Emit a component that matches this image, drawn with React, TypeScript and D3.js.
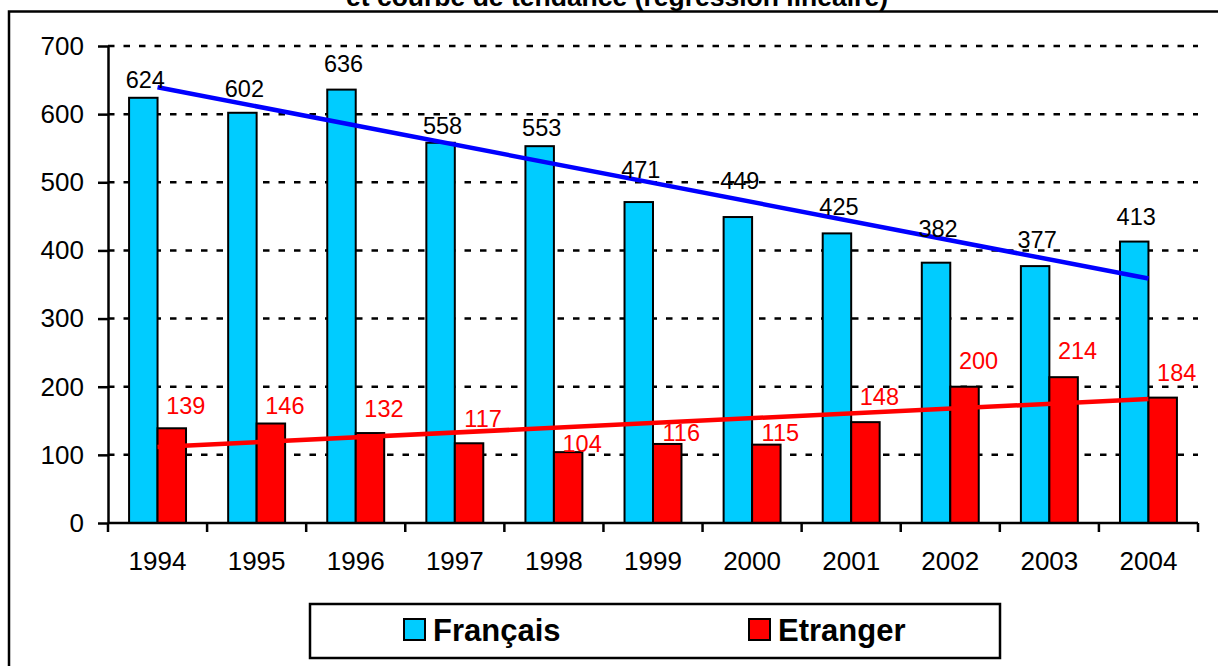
import { useEffect, useRef } from "react";
import * as d3 from "d3";

const years = ["1994", "1995", "1996", "1997", "1998", "1999", "2000", "2001", "2002", "2003", "2004"];
const francais = [624, 602, 636, 558, 553, 471, 449, 425, 382, 377, 413];
const etranger = [139, 146, 132, 117, 104, 116, 115, 148, 200, 214, 184];
const yTicks = [0, 100, 200, 300, 400, 500, 600, 700];
const seriesNames = ["Français", "Etranger"];
const seriesColors = ["#00CCFF", "#FF0000"];
const trendColors = ["#0000FF", "#FF0000"];
const titleLine = "et courbe de tendance (régression linéaire)";

// how far (px) each value label sits above its bar, as placed in the original
const liftFr = [10, 16, 18, 9, 10, 24, 28, 18, 26, 18, 17];
const liftEt = [14, 10, 16, 16, 0, 3, 4, 17, 18, 18, 17];

const W = 1218;
const H = 666;
const FONT = "'Liberation Sans', Arial, Helvetica, sans-serif";

// least squares fit on index 0..n-1
function linReg(vals: number[]) {
  const n = vals.length;
  const mx = (n - 1) / 2;
  const my = d3.mean(vals) as number;
  let num = 0;
  let den = 0;
  vals.forEach((v, i) => {
    num += (i - mx) * (v - my);
    den += (i - mx) * (i - mx);
  });
  const slope = num / den;
  return (i: number) => my + slope * (i - mx);
}

const App = () => {
  const svgRef = useRef<SVGSVGElement>(null);

  useEffect(() => {
    const svg = d3.select(svgRef.current);
    svg.selectAll("*").remove();

    const left = 108;
    const right = 1198;
    const top = 46;
    const bottom = 523;

    //1) scales
    const x = d3.scaleBand<string>().domain(years).range([left, right]).padding(0);
    const x1 = d3
      .scaleBand<number>()
      .domain([0, 1])
      .range([0, x.bandwidth()])
      .paddingInner(0)
      .paddingOuter(0.74);
    const y = d3.scaleLinear().domain([0, 700]).range([bottom, top]);

    // outer frame (runs off right / bottom edges like the source)
    svg
      .append("rect")
      .attr("x", 9)
      .attr("y", 11.5)
      .attr("width", W + 20)
      .attr("height", H + 20)
      .attr("fill", "none")
      .attr("stroke", "#000")
      .attr("stroke-width", 2.5);

    // title, second line only (first line is cut off)
    svg
      .append("text")
      .attr("x", 617)
      .attr("y", 6)
      .attr("text-anchor", "middle")
      .attr("font-family", FONT)
      .attr("font-weight", "bold")
      .attr("font-size", 26.5)
      .text(titleLine);

    //2) gridlines
    svg
      .append("g")
      .selectAll("line")
      .data(yTicks.filter((t) => t > 0))
      .join("line")
      .attr("x1", left)
      .attr("x2", right)
      .attr("y1", (d) => y(d))
      .attr("y2", (d) => y(d))
      .attr("stroke", "#000")
      .attr("stroke-width", 2.5)
      .attr("stroke-dasharray", "6.5,9");

    //3) bars
    const series = [francais, etranger];
    series.forEach((vals, si) => {
      svg
        .append("g")
        .selectAll("rect")
        .data(vals)
        .join("rect")
        .attr("x", (d, i) => (x(years[i]) as number) + (x1(si) as number))
        .attr("y", (d) => y(d))
        .attr("width", x1.bandwidth())
        .attr("height", (d) => bottom - y(d))
        .attr("fill", seriesColors[si])
        .attr("stroke", "#000")
        .attr("stroke-width", 2);
    });

    //4) axes
    const yAxis = d3
      .axisLeft(y)
      .tickValues(yTicks)
      .tickSize(10)
      .tickSizeOuter(0)
      .tickPadding(14);
    const gy = svg.append("g").attr("transform", `translate(${left},0)`).call(yAxis);
    gy.select(".domain").attr("stroke", "#000").attr("stroke-width", 2.5);
    gy.selectAll(".tick line").attr("stroke", "#000").attr("stroke-width", 2.5);
    gy.selectAll(".tick text")
      .attr("font-family", FONT)
      .attr("font-size", 26)
      .attr("fill", "#000");

    svg
      .append("line")
      .attr("x1", left)
      .attr("x2", right)
      .attr("y1", bottom)
      .attr("y2", bottom)
      .attr("stroke", "#000")
      .attr("stroke-width", 2.5);

    const tickXs = years.map((yr) => x(yr) as number).concat([right]);
    svg
      .append("g")
      .selectAll("line")
      .data(tickXs)
      .join("line")
      .attr("x1", (d) => d)
      .attr("x2", (d) => d)
      .attr("y1", bottom)
      .attr("y2", bottom + 9)
      .attr("stroke", "#000")
      .attr("stroke-width", 2.5);

    svg
      .append("g")
      .selectAll("text")
      .data(years)
      .join("text")
      .attr("x", (d) => (x(d) as number) + x.bandwidth() / 2)
      .attr("y", 570)
      .attr("text-anchor", "middle")
      .attr("font-family", FONT)
      .attr("font-size", 26)
      .text((d) => d);

    //5) trend lines
    series.forEach((vals, si) => {
      const f = linReg(vals);
      const line = d3
        .line<number>()
        .x((i) => (x(years[i]) as number) + x.bandwidth() / 2)
        .y((i) => y(f(i)));
      svg
        .append("path")
        .attr("d", line([0, vals.length - 1]))
        .attr("fill", "none")
        .attr("stroke", trendColors[si])
        .attr("stroke-width", 4.5);
    });

    //6) value labels
    const lifts = [liftFr, liftEt];
    const dxs = [2, 14];
    const labelColors = ["#000", "#FF0000"];
    series.forEach((vals, si) => {
      svg
        .append("g")
        .selectAll("text")
        .data(vals)
        .join("text")
        .attr(
          "x",
          (d, i) => (x(years[i]) as number) + (x1(si) as number) + x1.bandwidth() / 2 + dxs[si]
        )
        .attr("y", (d, i) => y(d) - lifts[si][i])
        .attr("text-anchor", "middle")
        .attr("font-family", FONT)
        .attr("font-size", 23.5)
        .attr("fill", labelColors[si])
        .text((d) => d);
    });

    //7) legend
    const lg = svg.append("g");
    lg.append("rect")
      .attr("x", 310)
      .attr("y", 604)
      .attr("width", 690)
      .attr("height", 54)
      .attr("fill", "#fff")
      .attr("stroke", "#000")
      .attr("stroke-width", 2.5);
    const legendX = [404, 749];
    seriesNames.forEach((name, si) => {
      lg.append("rect")
        .attr("x", legendX[si])
        .attr("y", 619)
        .attr("width", 21)
        .attr("height", 21)
        .attr("fill", seriesColors[si])
        .attr("stroke", "#000")
        .attr("stroke-width", 2);
      lg.append("text")
        .attr("x", legendX[si] + 29)
        .attr("y", 641)
        .attr("font-family", FONT)
        .attr("font-weight", "bold")
        .attr("font-size", 31)
        .text(name);
    });
  }, []);

  return (
    <div style={{ position: "absolute", left: 0, top: 0, width: W, height: H, overflow: "hidden", background: "#fff" }}>
      <svg ref={svgRef} width={W} height={H} style={{ display: "block" }}></svg>
    </div>
  );
};

export default App;
